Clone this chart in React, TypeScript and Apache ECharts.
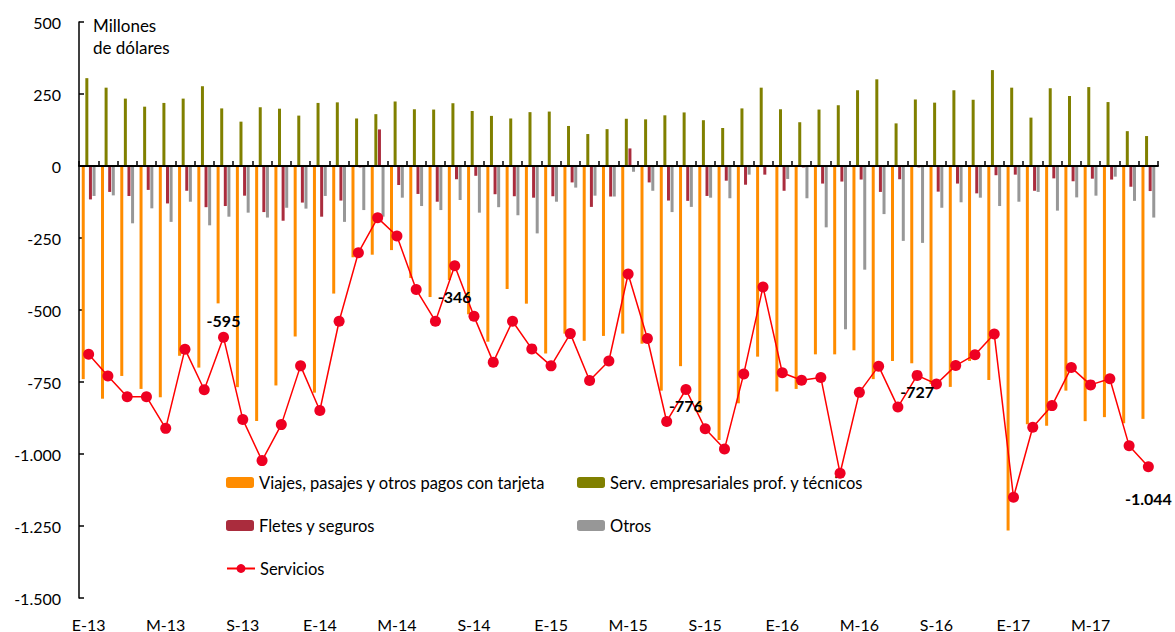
import React, { useEffect, useRef } from "react";
import * as echarts from "echarts";

const monthLetters = ["E", "F", "M", "A", "M", "J", "J", "A", "S", "O", "N", "D"];
const years = ["13", "14", "15", "16", "17"];
const nMonths = 56;
const categories: string[] = [];
for (let i = 0; i < nMonths; i++) {
  categories.push(monthLetters[i % 12] + "-" + years[Math.floor(i / 12)]);
}

const viajes = [
  -740, -808, -729, -774, -803, -659, -700, -477, -768, -885, -762, -592, -787, -443,
  -317, -308, -292, -389, -455, -396, -515, -610, -427, -478, -651, -582, -607, -590,
  -582, -617, -780, -695, -857, -951, -824, -662, -783, -774, -654, -654, -640, -740,
  -677, -685, -757, -767, -677, -743, -1266, -897, -902, -780, -886, -872, -893, -878,
];
const servEmp = [
  305, 272, 234, 206, 219, 234, 277, 200, 154, 204, 199, 175, 219, 221,
  165, 180, 224, 197, 196, 218, 191, 174, 165, 187, 189, 139, 111, 128,
  164, 162, 176, 186, 159, 132, 200, 272, 197, 152, 196, 211, 263, 301,
  148, 231, 220, 263, 230, 333, 272, 168, 270, 243, 274, 222, 121, 104,
];
const fletes = [
  -116, -90, -104, -83, -130, -86, -143, -139, -103, -160, -190, -127, -176, -120,
  -5, 127, -66, -97, -124, -46, -34, -98, -105, -110, -105, -57, -142, -106,
  61, -57, -120, -121, -104, -51, -65, -30, -86, -5, -61, -54, -47, -90,
  -46, -5, -89, -61, -95, -32, -30, -86, -43, -53, -44, -47, -72, -87,
];
const otros = [
  -104, -102, -199, -147, -194, -124, -206, -176, -162, -179, -145, -148, -104, -194,
  -153, -176, -110, -139, -153, -118, -162, -143, -171, -234, -124, -75, -103, -106,
  -20, -86, -160, -142, -110, -112, -30, -3, -45, -112, -213, -567, -360, -167,
  -260, -267, -145, -126, -110, -139, -124, -90, -155, -109, -103, -37, -121, -179,
];
const servicios = [
  -654, -729, -801, -801, -911, -636, -777, -595, -880, -1023, -898, -694, -849, -539,
  -301, -180, -243, -429, -539, -346, -522, -681, -539, -635, -694, -582, -745, -677,
  -375, -599, -887, -776, -912, -983, -722, -420, -718, -744, -734, -1067, -786, -695,
  -837, -727, -757, -693, -655, -583, -1150, -907, -832, -700, -760, -739, -971, -1044,
];

const yTicks = { min: -1500, max: 500, interval: 250 };

// annotated points: index -> label placement
const annotations: { idx: number; position: string; distance: number }[] = [
  { idx: 7, position: "top", distance: 3 },
  { idx: 19, position: "bottom", distance: 17 },
  { idx: 31, position: "bottom", distance: 3 },
  { idx: 43, position: "bottom", distance: 3 },
  { idx: 55, position: "bottom", distance: 18 },
];

const names = {
  viajes: "Viajes, pasajes y otros pagos con tarjeta",
  serv: "Serv. empresariales prof. y técnicos",
  fletes: "Fletes y seguros",
  otros: "Otros",
  servicios: "Servicios",
};

const fmt = (v: number) => {
  const s = Math.abs(Math.round(v))
    .toString()
    .replace(/\B(?=(\d{3})+(?!\d))/g, ".");
  return (v < 0 ? "-" : "") + s;
};

const FONT = 'Lato, "DejaVu Sans", sans-serif';

export default function App() {
  const ref = useRef<HTMLDivElement>(null);
  useEffect(() => {
    if (!ref.current) return;
    const chart = echarts.init(ref.current, undefined, { renderer: "svg" });

    const barCommon = { type: "bar", barWidth: 3, barGap: "20%", xAxisIndex: 0 };
    const legendCommon = {
      itemWidth: 28,
      itemHeight: 11,
      padding: 0,
      itemGap: 0,
      selectedMode: false,
      textStyle: { fontSize: 16.5, color: "#000", fontFamily: FONT },
    };

    const lineData = servicios.map((v, i) => {
      const a = annotations.find((x) => x.idx === i);
      if (!a) return v;
      return {
        value: v,
        label: {
          show: true,
          position: a.position,
          distance: a.distance,
          formatter: (p: any) => fmt(p.value),
          fontWeight: "bold",
          fontSize: 16,
          color: "#000",
          fontFamily: FONT,
        },
      };
    });

    chart.setOption({
      animation: false,
      textStyle: { fontFamily: FONT, color: "#000" },
      grid: { left: 79, right: 17, top: 22, bottom: 34, containLabel: false },
      xAxis: [
        {
          type: "category",
          data: categories,
          position: "bottom",
          axisLine: { onZero: true, lineStyle: { color: "#000", width: 2 } },
          axisTick: { show: true, inside: true, length: 5, interval: 0, lineStyle: { color: "#000", width: 1.5 } },
          axisLabel: { show: false },
          splitLine: { show: false },
          z: 5,
        },
        {
          type: "category",
          data: categories,
          position: "bottom",
          axisLine: { show: false, onZero: false },
          axisTick: { show: false },
          axisLabel: { interval: 3, margin: 18, fontSize: 16, color: "#000", fontFamily: FONT },
          splitLine: { show: false },
        },
      ],
      yAxis: {
        type: "value",
        min: yTicks.min,
        max: yTicks.max,
        interval: yTicks.interval,
        axisLine: { show: true, lineStyle: { color: "#000", width: 1.5 } },
        axisTick: { show: true, inside: true, length: 5, lineStyle: { color: "#000", width: 1.5 } },
        axisLabel: { margin: 18, fontSize: 16, color: "#000", fontFamily: FONT, formatter: (v: number) => fmt(v) },
        splitLine: { show: false },
      },
      legend: [
        { ...legendCommon, data: [names.viajes], left: 226, top: 474 },
        { ...legendCommon, data: [names.serv], left: 577, top: 474 },
        { ...legendCommon, data: [names.fletes], left: 226, top: 517 },
        { ...legendCommon, data: [names.otros], left: 577, top: 517 },
        { ...legendCommon, data: [names.servicios], left: 226, top: 560 },
      ],
      graphic: [
        {
          type: "text",
          left: 93,
          top: 14,
          style: {
            text: "Millones\nde dólares",
            fontSize: 17,
            lineHeight: 22,
            fill: "#000",
            fontFamily: FONT,
          },
        },
      ],
      series: [
        { ...barCommon, name: names.viajes, data: viajes, itemStyle: { color: "#FF8C00" } },
        { ...barCommon, name: names.serv, data: servEmp, itemStyle: { color: "#808000" } },
        { ...barCommon, name: names.fletes, data: fletes, itemStyle: { color: "#AA2C3D" } },
        { ...barCommon, name: names.otros, data: otros, itemStyle: { color: "#979797" } },
        {
          type: "line",
          name: names.servicios,
          data: lineData,
          xAxisIndex: 0,
          symbol: "circle",
          symbolSize: 11,
          lineStyle: { color: "#FF0000", width: 1.5 },
          itemStyle: { color: "#EE0022" },
          z: 10,
        },
      ],
    });
    return () => chart.dispose();
  }, []);
  return (
    <div
      ref={ref}
      style={{ position: "absolute", left: 0, top: 0, width: 1175, height: 632, background: "#fff" }}
    />
  );
}
